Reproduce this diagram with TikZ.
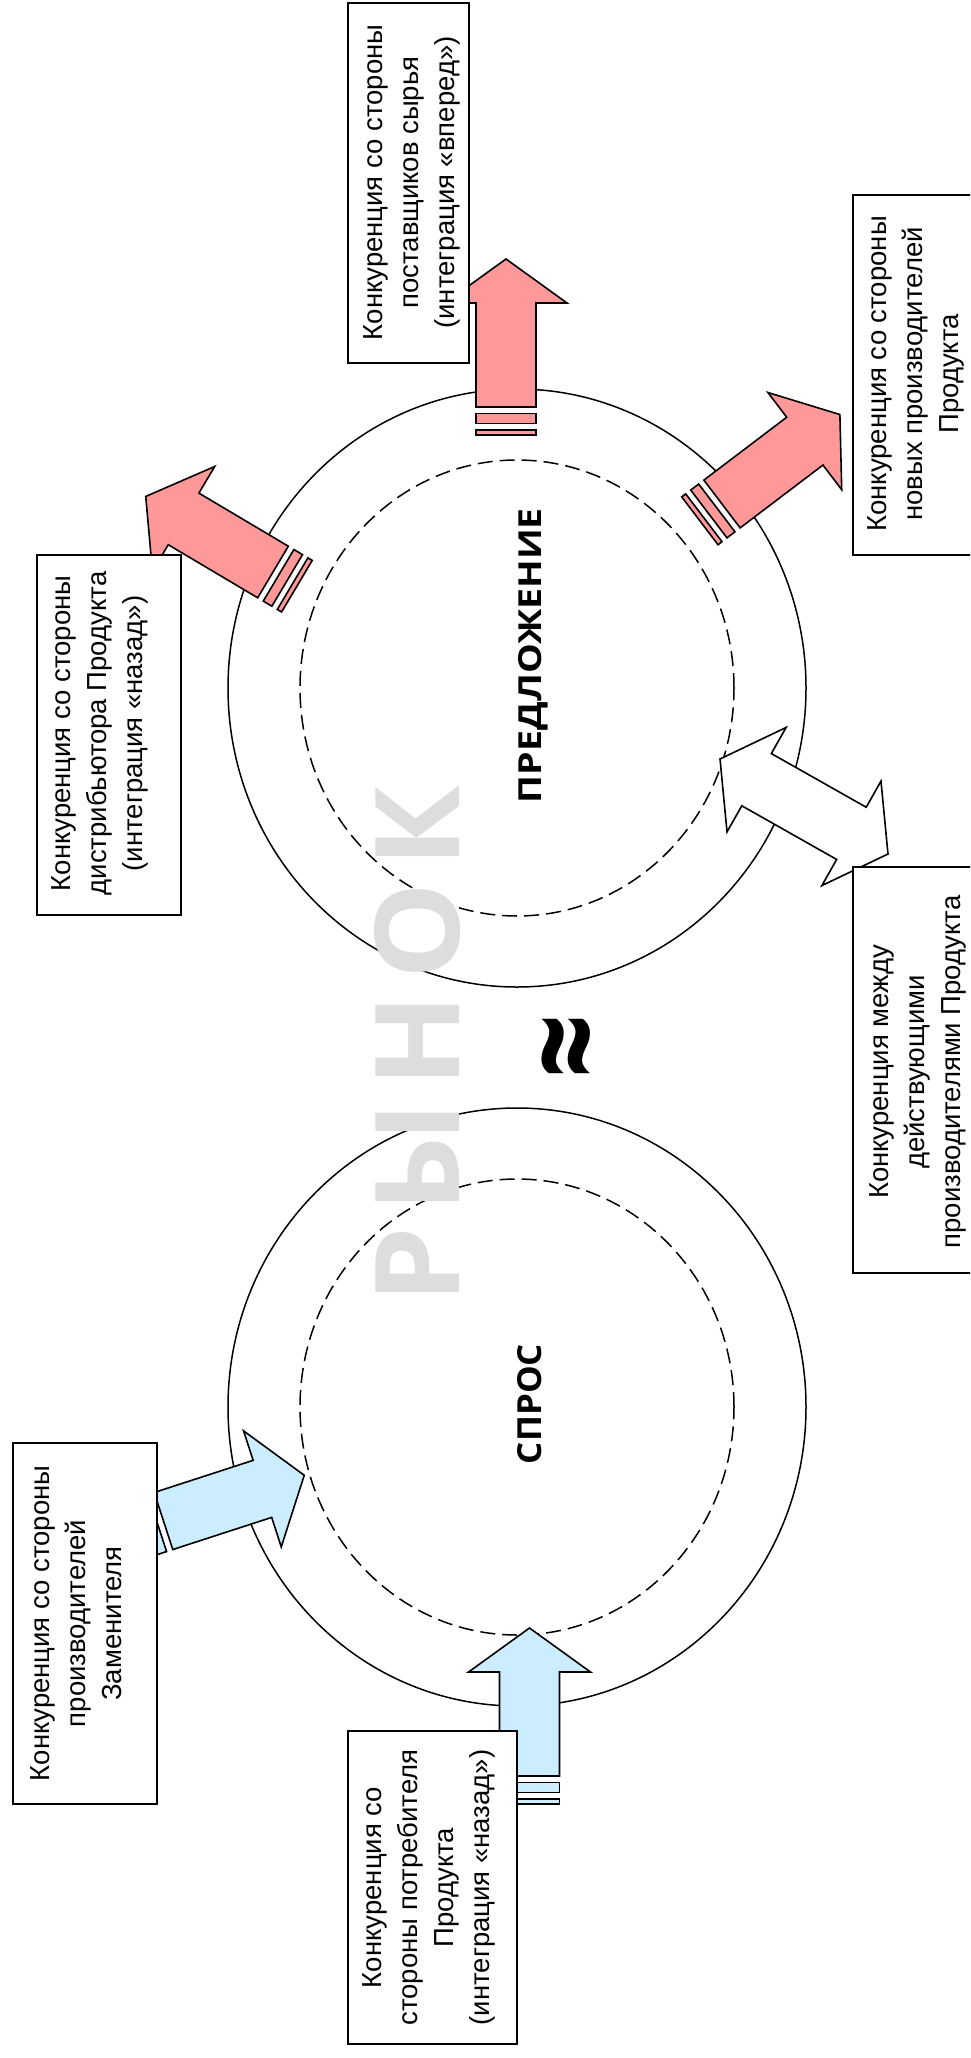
\documentclass[tikz,border=0pt]{standalone}
\usepackage{fontspec}
\usepackage{graphicx}
\setmainfont{Liberation Sans}
\newfontfamily\osans{Open Sans}
\definecolor{redfill}{HTML}{FF9999}
\definecolor{bluefill}{HTML}{CCECFF}
\definecolor{rgray}{HTML}{DDDDDD}
\tikzset{
  ring/.style={line width=1.5pt},
  dring/.style={line width=1.5pt, dash pattern=on 15pt off 7pt},
  boxst/.style={draw, line width=1.8pt, fill=white, rotate=90, inner sep=0pt},
  txt/.style={rotate=90, align=center, inner sep=0pt, font=\fontsize{27.5}{36}\selectfont},
  bigl/.style={rotate=90, anchor=base, inner sep=0pt},
  fatarrow/.pic={
    \path[draw, line width=1.6pt, pic actions] (0,-30) -- (104,-30) -- (104,-61) -- (148,0) -- (104,61) -- (104,30) -- (0,30) -- cycle;
    \path[draw, line width=1.6pt, pic actions] (-6.5,-30) rectangle (-16.5,30);
    \path[draw, line width=1.6pt, pic actions] (-22.8,-30) rectangle (-27.8,30);
  },
  dblarrow/.pic={
    \path[draw, line width=1.6pt, pic actions] (-96.5,0) -- (-54.5,60) -- (-54.5,30) -- (54.5,30) -- (54.5,60) -- (96.5,0) -- (54.5,-60) -- (54.5,-30) -- (-54.5,-30) -- (-54.5,-60) -- cycle;
  }
}
\begin{document}
\begin{tikzpicture}[x=1pt,y=1pt]
\useasboundingbox (0,0) rectangle (970,-2058);
\clip (0,0) rectangle (970,-2058);
% rings
\coordinate (sup) at (517,-688);
\coordinate (dem) at (517,-1407);
\draw[ring] (sup) ellipse [x radius=289, y radius=299];
\draw[dring] (sup) ellipse [x radius=217, y radius=228];
\draw[ring] (dem) ellipse [x radius=289, y radius=299];
\draw[dring] (dem) ellipse [x radius=217, y radius=228];
% big labels
\node[bigl, text=rgray] (market) at (459,-1044.5) {\resizebox{517pt}{85pt}{\osans\bfseries Р\hspace{0.12em}Ы\hspace{0.12em}Н\hspace{0.12em}О\hspace{0.12em}К}};
\node[bigl] (supply) at (541,-655.5) {\resizebox{295pt}{23pt}{\osans\bfseries ПРЕДЛОЖЕНИЕ}};
\node[bigl] (demand) at (541,-1404) {\resizebox{120pt}{24pt}{\osans\bfseries СПРОС}};
\node[rotate=90, inner sep=0pt] (approx) at (578,-1046.5) {\scalebox{1}[1.2]{\resizebox{64pt}{!}{\osans\bfseries ≈}}};
% arrows
\pic[rotate=90, fill=redfill] (a1) at (506,-407) {fatarrow};
\pic[rotate=37.2, fill=redfill] (a2) at (722,-504) {fatarrow};
\pic[rotate=149.3, fill=redfill] (a3) at (273,-572) {fatarrow};
\pic[rotate=-29.5, fill=white] (a4) at (804,-806.5) {dblarrow};
\pic[rotate=18, fill=bluefill] (a5) at (163.5,-1521) {fatarrow};
\pic[rotate=90, fill=bluefill] (a6) at (529.5,-1776) {fatarrow};
% boxes
\node[boxst, minimum width=360pt, minimum height=121pt] (b1) at (408.5,-183) {};
\node[txt] (t1) at (412,-182.5) {Конкуренция со стороны\\поставщиков сырья\\(интеграция «вперед»)};
\node[boxst, minimum width=360pt, minimum height=124pt] (b2) at (915,-375) {};
\node[txt] (t2) at (916,-374) {Конкуренция со стороны\\новых производителей\\Продукта};
\node[boxst, minimum width=360pt, minimum height=144pt] (b3) at (109,-735) {};
\node[txt] (t3) at (99.6,-733.5) {Конкуренция со стороны\\дистрибьютора Продукта\\(интеграция «назад»)};
\node[boxst, minimum width=406pt, minimum height=130pt] (b4) at (918,-1070) {};
\node[txt] (t4) at (918,-1072) {Конкуренция между\\действующими\\производителями Продукта};
\node[boxst, minimum width=361pt, minimum height=144pt] (b5) at (85,-1623.5) {};
\node[txt] (t5) at (75.7,-1623.5) {Конкуренция со стороны\\производителей\\Заменителя};
\node[boxst, minimum width=313pt, minimum height=169pt] (b6) at (432.5,-1887.5) {};
\node[txt] (t6) at (429,-1887.5) {Конкуренция со\\стороны потребителя\\Продукта\\(интеграция «назад»)};
\end{tikzpicture}
\end{document}
